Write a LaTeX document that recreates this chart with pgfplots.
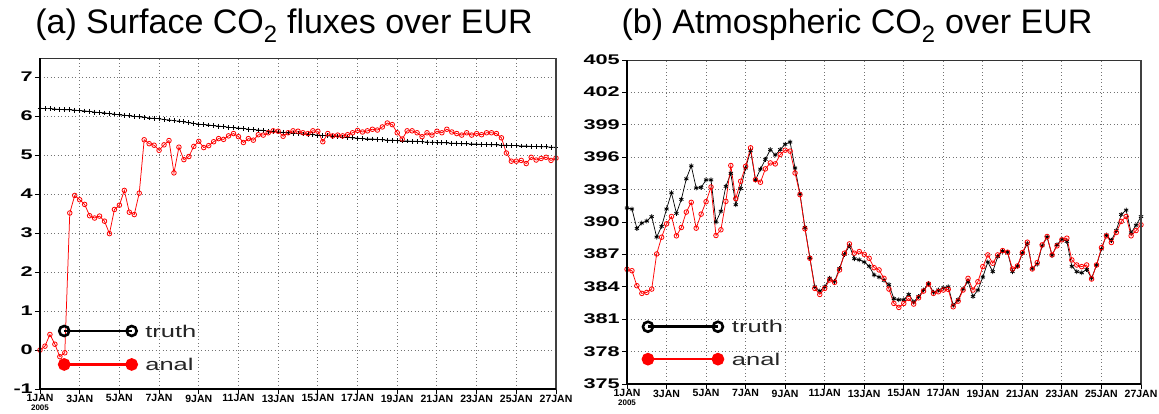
\documentclass[border=0pt]{standalone}
\usepackage{fontspec}
\setmainfont{Liberation Sans}
\newfontfamily\tickfont[FakeStretch=1.55]{Liberation Sans}
\newfontfamily\legfont[FakeStretch=1.5]{Liberation Sans}
\usepackage{pgfplots}
\usepackage{pgfplotstable}
\pgfplotsset{compat=1.18}

% panel (a): surface fluxes, 6-hourly from 1 Jan 2005 (t = truth, a = anal)
\pgfplotstableread[row sep=\\]{
t a\\
6.21 0.00\\ 6.20 0.10\\ 6.20 0.40\\ 6.19 0.15\\ 6.18 -0.17\\ 6.17 -0.07\\ 6.17 3.52\\ 6.16 3.97\\
6.15 3.86\\ 6.14 3.74\\ 6.13 3.45\\ 6.11 3.39\\ 6.10 3.44\\ 6.09 3.31\\ 6.07 2.99\\ 6.06 3.61\\
6.04 3.72\\ 6.03 4.10\\ 6.02 3.54\\ 6.00 3.48\\ 5.99 4.03\\ 5.98 5.40\\ 5.96 5.30\\ 5.95 5.26\\
5.94 5.13\\ 5.92 5.27\\ 5.91 5.38\\ 5.89 4.55\\ 5.88 5.21\\ 5.86 4.89\\ 5.84 4.97\\ 5.82 5.23\\
5.80 5.36\\ 5.79 5.20\\ 5.78 5.25\\ 5.76 5.35\\ 5.75 5.43\\ 5.74 5.41\\ 5.72 5.50\\ 5.71 5.56\\
5.70 5.48\\ 5.69 5.33\\ 5.67 5.43\\ 5.66 5.39\\ 5.65 5.53\\ 5.64 5.52\\ 5.62 5.58\\ 5.61 5.63\\
5.60 5.62\\ 5.59 5.49\\ 5.58 5.58\\ 5.57 5.63\\ 5.56 5.62\\ 5.55 5.58\\ 5.54 5.56\\ 5.53 5.63\\
5.52 5.62\\ 5.51 5.35\\ 5.50 5.56\\ 5.49 5.50\\ 5.48 5.52\\ 5.47 5.50\\ 5.46 5.53\\ 5.45 5.58\\
5.44 5.64\\ 5.43 5.60\\ 5.42 5.63\\ 5.42 5.67\\ 5.41 5.65\\ 5.40 5.73\\ 5.39 5.83\\ 5.39 5.79\\
5.38 5.58\\ 5.37 5.42\\ 5.37 5.63\\ 5.36 5.63\\ 5.36 5.58\\ 5.35 5.48\\ 5.34 5.58\\ 5.34 5.52\\
5.33 5.62\\ 5.32 5.58\\ 5.32 5.67\\ 5.31 5.60\\ 5.31 5.56\\ 5.30 5.52\\ 5.30 5.58\\ 5.29 5.52\\
5.29 5.56\\ 5.28 5.53\\ 5.28 5.58\\ 5.27 5.58\\ 5.27 5.56\\ 5.26 5.45\\ 5.26 5.06\\ 5.25 4.85\\
5.25 4.85\\ 5.24 4.87\\ 5.24 4.79\\ 5.23 4.95\\ 5.23 4.88\\ 5.22 4.92\\ 5.22 4.95\\ 5.21 4.87\\
5.21 4.93\\
}\tableA

% panel (b): atmospheric CO2, 6-hourly from 1 Jan 2005 (t = truth, a = anal)
\pgfplotstableread[row sep=\\]{
t a\\
391.3 385.62\\ 391.2 385.49\\ 389.4 384.10\\ 389.9 383.39\\ 390.1 383.48\\ 390.5 383.79\\ 388.6 387.04\\ 389.6 388.59\\
391.2 389.83\\ 392.7 390.51\\ 390.8 388.72\\ 392.1 389.49\\ 394.0 390.92\\ 395.2 391.82\\ 393.15 389.43\\ 393.2 390.73\\
393.9 391.88\\ 393.9 393.24\\ 390.0 388.75\\ 391.0 389.28\\ 393.3 391.91\\ 394.5 395.23\\ 391.6 392.16\\ 393.1 393.77\\
395.0 395.16\\ 396.6 396.87\\ 393.9 393.92\\ 394.9 393.68\\ 395.8 394.92\\ 396.7 395.47\\ 396.2 395.38\\ 396.7 396.25\\
397.2 396.65\\ 397.4 396.56\\ 395.0 394.54\\ 392.6 392.53\\ 389.5 389.37\\ 386.7 386.64\\ 384.0 383.85\\ 383.6 383.29\\
384.0 383.85\\ 384.8 384.63\\ 384.5 384.41\\ 385.7 385.56\\ 387.0 387.11\\ 387.8 387.97\\ 386.6 387.11\\ 386.5 387.26\\
386.3 387.01\\ 385.9 386.64\\ 385.1 385.77\\ 384.9 385.56\\ 384.6 384.78\\ 384.2 383.79\\ 382.9 382.46\\ 382.8 382.09\\
382.8 382.46\\ 383.3 382.92\\ 382.6 382.40\\ 383.1 382.98\\ 383.7 383.60\\ 384.3 384.26\\ 383.5 383.39\\ 383.7 383.54\\
383.9 383.70\\ 384.0 383.76\\ 382.3 382.15\\ 382.8 382.67\\ 383.8 383.70\\ 384.5 384.78\\ 383.1 383.70\\ 383.7 384.47\\
384.9 385.87\\ 386.3 386.95\\ 385.4 386.18\\ 386.8 386.95\\ 387.3 387.35\\ 387.2 387.20\\ 385.4 385.65\\ 385.9 385.93\\
387.1 387.17\\ 388.0 388.13\\ 385.7 385.65\\ 386.1 386.24\\ 387.8 387.88\\ 388.6 388.66\\ 386.9 386.95\\ 387.9 387.79\\
388.4 388.35\\ 388.2 388.50\\ 385.9 386.49\\ 385.4 386.02\\ 385.3 385.87\\ 385.6 386.02\\ 384.8 384.72\\ 386.0 386.02\\
387.5 387.63\\ 388.8 388.72\\ 388.3 388.10\\ 389.2 389.03\\ 390.7 390.05\\ 391.1 390.51\\ 389.0 388.72\\ 389.7 389.21\\
390.5 389.74\\
}\tableB

\tikzset{legtext/.style={anchor=west, font=\legfont\fontsize{17}{17}\selectfont, inner sep=0pt, text=black!85}}

\pgfplotsset{
  grads/.style={
    scale only axis,
    xmin=0, xmax=26,
    xtick={0,2,...,26},
    xticklabels={{1JAN\\{\fontsize{8}{8}\selectfont 2005}},3JAN,5JAN,7JAN,9JAN,11JAN,13JAN,15JAN,17JAN,19JAN,21JAN,23JAN,25JAN,27JAN},
    xticklabel style={font=\bfseries\fontsize{10.5}{8.8}\selectfont, align=center, inner sep=0pt, yshift=-0.5pt},
    yticklabel style={font=\tickfont\bfseries\fontsize{14}{14}\selectfont, inner sep=0pt, xshift=-2pt, text height=9pt, text depth=0pt},
    /pgf/number format/assume math mode=true,
    tick pos=left, tick align=outside, major tick length=5pt,
    tick style={black, line width=0.9pt},
    grid=major,
    grid style={black!55, line width=0.9pt, dash pattern=on 0.9pt off 2.6pt},
    axis line style={line width=0.8pt, black!80},
    after end axis/.code={
      \draw[line width=2.6pt, black!75] (rel axis cs:1,0) -- (rel axis cs:1,1);
      \draw[line width=2.6pt, black] (rel axis cs:0,0) -- (rel axis cs:0,1);
      \draw[line width=2.2pt, black] (rel axis cs:0,0) -- (rel axis cs:1,0);
    },
  },
  anal/.style={red, line width=0.75pt, mark=o, mark size=2.3pt, mark options={line width=0.8pt, fill=white}},
  legblack/.style={black, line width=2.6pt, mark=o, mark size=5pt, mark options={line width=2.6pt, black}},
  legred/.style={red, line width=2.6pt, mark=*, mark size=5pt, mark options={red, fill=red}},
}

\begin{document}
\begin{tikzpicture}
\useasboundingbox (0,0) rectangle (1159pt,414pt);

\node[anchor=base, font=\fontsize{34}{34}\selectfont] at (284pt,380pt) {(a) Surface CO\textsubscript{2} fluxes over EUR};
\node[anchor=base, font=\fontsize{34}{34}\selectfont] at (857pt,380pt) {(b) Atmospheric CO\textsubscript{2} over EUR};

% ---------- panel (a)
\begin{axis}[grads, at={(40pt,25pt)}, anchor=south west,
  width=516pt, height=331pt,
  ymin=-1, ymax=7.5, ytick={-1,0,...,7}]
\addplot[black, line width=0.7pt, mark=+, mark size=2.4pt, mark options={line width=0.8pt}] table[x expr=\coordindex/4, y=t] {\tableA};
\addplot[anal] table[x expr=\coordindex/4, y=a] {\tableA};
% legend
\addplot[legblack] coordinates {(1.22,0.49) (4.62,0.49)};
\addplot[legred] coordinates {(1.22,-0.37) (4.62,-0.37)};
\node[legtext] at (axis cs:5.3,0.49) {truth};
\node[legtext] at (axis cs:5.3,-0.37) {anal};
\end{axis}

% ---------- panel (b)
\begin{axis}[grads, at={(627pt,30pt)}, anchor=south west,
  width=514pt, height=324pt,
  ymin=375, ymax=405, ytick={375,378,...,405}]
\addplot[black, line width=0.7pt, mark=asterisk, mark size=2.4pt, mark options={line width=0.8pt}] table[x expr=\coordindex/4, y=t] {\tableB};
\addplot[anal] table[x expr=\coordindex/4, y=a] {\tableB};
% legend
\addplot[legblack] coordinates {(1.06,380.3) (4.6,380.3)};
\addplot[legred] coordinates {(1.06,377.3) (4.6,377.3)};
\node[legtext] at (axis cs:5.3,380.3) {truth};
\node[legtext] at (axis cs:5.3,377.3) {anal};
\end{axis}
\end{tikzpicture}
\end{document}
